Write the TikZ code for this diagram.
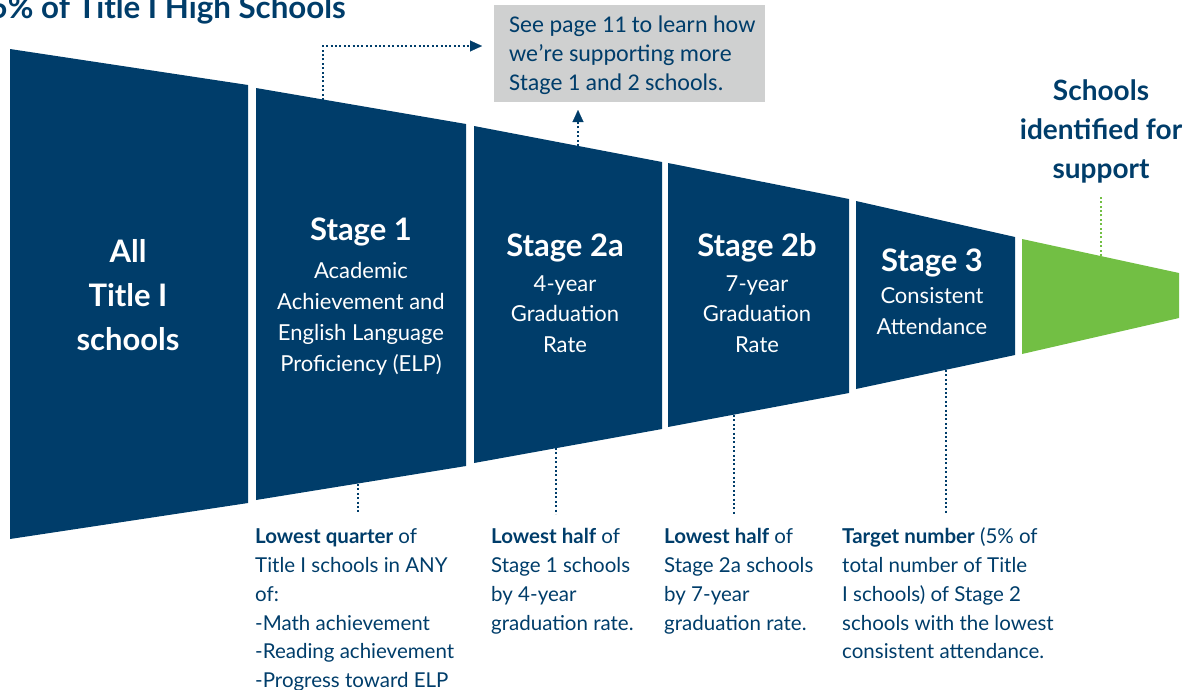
\documentclass[tikz,border=0pt]{standalone}
\usepackage{fontspec}
\setmainfont{Lato}
\newfontfamily\carlito{Carlito}
\usetikzlibrary{arrows.meta}
\definecolor{navy}{RGB}{0,61,106}
\definecolor{lgreen}{RGB}{114,191,68}
\definecolor{boxgray}{RGB}{207,208,208}
\tikzset{
  seg/.style={fill=navy},
  gseg/.style={fill=lgreen},
  lbl/.style={inner sep=0pt, anchor=base},
  heading/.style={lbl, text=white, font=\bfseries\fontsize{31}{36}\selectfont},
  body/.style={lbl, text=white, font=\fontsize{22}{31}\selectfont},
  crit/.style={inner sep=0pt, anchor=base west, text=navy, font=\fontsize{20.5}{29}\selectfont},
  dotline/.style={draw=navy, line width=2pt, dash pattern=on 2pt off 2.4pt},
  gdotline/.style={draw=lgreen, line width=2pt, dash pattern=on 2pt off 2.4pt},
  tip/.style={-{Triangle[length=12pt,width=11pt]}},
}
\begin{document}
\begin{tikzpicture}[x=1pt,y=-1pt]
\useasboundingbox (0,0) rectangle (1186,689);
% title (cut at the edge, as in the reference)
\node[inner sep=0pt, anchor=base east, text=navy, font=\bfseries\fontsize{31.3}{38}\selectfont] (title) at (346,18) {5\% of Title I High Schools};
% funnel segments
\fill[seg] (10,49) -- (248,85) -- (248,503) -- (10,539) -- cycle;
\fill[seg] (256,88) -- (466,124) -- (466,466) -- (256,500) -- cycle;
\fill[seg] (474,126) -- (662,162) -- (662,429) -- (474,463) -- cycle;
\fill[seg] (668,163) -- (849,199) -- (849,393) -- (668,427) -- cycle;
\fill[seg] (856,201) -- (1015,237) -- (1015,355) -- (856,389) -- cycle;
\fill[gseg] (1022,239) -- (1179,273) -- (1179,318) -- (1022,354) -- cycle;
% segment 0
\node[heading] (s0a) at (128,262) {All};
\node[heading] (s0b) at (128,306) {Title I};
\node[heading] (s0c) at (128,350) {schools};
% segment 1
\node[heading] (s1h) at (361,240) {Stage 1};
\node[body] (s1a) at (361,278) {Academic};
\node[body] (s1b) at (361,309) {Achievement and};
\node[body] (s1c) at (361,340) {English Language};
\node[body] (s1d) at (361,371) {Proficiency (ELP)};
% segment 2a
\node[heading] (s2h) at (565,256) {Stage 2a};
\node[body] (s2a) at (565,291) {4-year};
\node[body] (s2b) at (565,321) {Graduation};
\node[body] (s2c) at (565,352) {Rate};
% segment 2b
\node[heading] (s3h) at (757,256) {Stage 2b};
\node[body] (s3a) at (757,291) {7-year};
\node[body] (s3b) at (757,321) {Graduation};
\node[body] (s3c) at (757,352) {Rate};
% segment 3
\node[heading] (s4h) at (932,271) {Stage 3};
\node[body] (s4a) at (932,303) {Consistent};
\node[body] (s4b) at (932,334) {Attendance};
% right label
\node[lbl, text=navy, font=\bfseries\fontsize{28}{39}\selectfont] (r1) at (1101,100) {Schools};
\node[lbl, text=navy, font=\bfseries\fontsize{28}{39}\selectfont] (r2) at (1101,139) {identified for};
\node[lbl, text=navy, font=\bfseries\fontsize{28}{39}\selectfont] (r3) at (1101,178) {support};
% note box
\node[fill=boxgray, minimum width=271pt, minimum height=97pt, inner sep=0pt, anchor=north west] (note) at (494,5) {};
\node[inner sep=0pt, anchor=base west, text=navy, font=\carlito\fontsize{24}{29}\selectfont] (n1) at (509,32) {See page 11 to learn how};
\node[inner sep=0pt, anchor=base west, text=navy, font=\carlito\fontsize{24}{29}\selectfont] (n2) at (509,61) {we’re supporting more};
\node[inner sep=0pt, anchor=base west, text=navy, font=\carlito\fontsize{24}{29}\selectfont] (n3) at (509,90) {Stage 1 and 2 schools.};
% criteria texts
\node[crit] (c1a) at (255,543) {\textbf{Lowest quarter} of};
\node[crit] (c1b) at (255,572) {Title I schools in ANY};
\node[crit] (c1c) at (255,601) {of:};
\node[crit] (c1d) at (255,630) {-Math achievement};
\node[crit] (c1e) at (255,658) {-Reading achievement};
\node[crit] (c1f) at (255,687) {-Progress toward ELP};
\node[crit] (c2a) at (491,543) {\textbf{Lowest half} of};
\node[crit] (c2b) at (491,572) {Stage 1 schools};
\node[crit] (c2c) at (491,601) {by 4-year};
\node[crit] (c2d) at (491,630) {graduation rate.};
\node[crit] (c3a) at (664,543) {\textbf{Lowest half} of};
\node[crit] (c3b) at (664,572) {Stage 2a schools};
\node[crit] (c3c) at (664,601) {by 7-year};
\node[crit] (c3d) at (664,630) {graduation rate.};
\node[crit] (c4a) at (842,543) {\textbf{Target number} (5\% of};
\node[crit] (c4b) at (842,572) {total number of Title};
\node[crit] (c4c) at (842,601) {I schools) of Stage 2};
\node[crit] (c4d) at (842,630) {schools with the lowest};
\node[crit] (c4e) at (842,658) {consistent attendance.};
% connector end points
\coordinate (t1) at (323,100);
\coordinate (a1) at (482,46);
\coordinate (t2) at (578,146);
\coordinate (a2) at (578,110);
\coordinate (g1) at (1101,256);
\coordinate (g2) at (1101,195);
\coordinate (b1) at (358,484);
\coordinate (e1) at (358,514);
\coordinate (b2) at (556,448);
\coordinate (e2) at (556,514);
\coordinate (b3) at (734,415);
\coordinate (e3) at (734,515);
\coordinate (b4) at (946,370);
\coordinate (e4) at (946,515);
% connectors
\draw[dotline] (t1) |- ([xshift=-10pt]a1);
\draw[tip, draw=navy, fill=navy, line width=0.1pt] ([xshift=-10.5pt]a1) -- (a1);
\draw[dotline] (t2) -- ([yshift=-10pt]a2);
\draw[tip, draw=navy, fill=navy, line width=0.1pt] ([yshift=-10.5pt]a2) -- (a2);
\draw[gdotline] (g1) -- (g2);
\draw[dotline] (b1) -- (e1);
\draw[dotline] (b2) -- (e2);
\draw[dotline] (b3) -- (e3);
\draw[dotline] (b4) -- (e4);
\end{tikzpicture}
\end{document}
